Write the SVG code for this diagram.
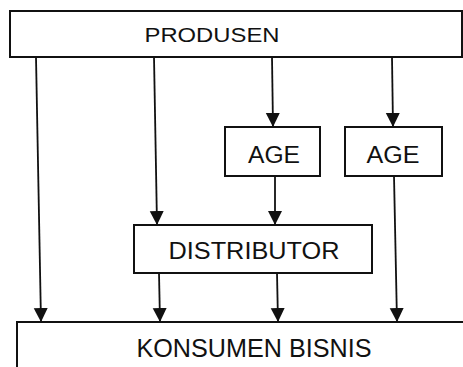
<svg xmlns="http://www.w3.org/2000/svg" width="463" height="367" viewBox="0 0 463 367">
<defs>
<marker id="ah" markerUnits="userSpaceOnUse" markerWidth="14" markerHeight="16" refX="14" refY="7" orient="auto" viewBox="0 0 14 14">
<path d="M0,0 L14,7 L0,14 Z" fill="#111"/>
</marker>
<style>
.box{fill:#fff;stroke:#111;stroke-width:2}
.lbl{font-family:"Liberation Sans","DejaVu Sans",sans-serif;fill:#111;text-anchor:middle}
.con{stroke:#111;stroke-width:1.8;fill:none;marker-end:url(#ah)}
</style>
</defs>
<rect width="463" height="367" fill="#fff"/>
<g id="produsen">
<rect class="box" x="10" y="11" width="452" height="46"/>
<text class="lbl" x="212" y="42" font-size="21" textLength="135" lengthAdjust="spacingAndGlyphs">PRODUSEN</text>
</g>
<g id="age1">
<rect class="box" x="225" y="127" width="95" height="49"/>
<text class="lbl" x="274" y="163" font-size="23" textLength="52" lengthAdjust="spacingAndGlyphs">AGE</text>
</g>
<g id="age2">
<rect class="box" x="345" y="127" width="97" height="49"/>
<text class="lbl" x="393" y="163" font-size="23" textLength="53" lengthAdjust="spacingAndGlyphs">AGE</text>
</g>
<g id="distributor">
<rect class="box" x="134" y="225" width="238" height="48"/>
<text class="lbl" x="254" y="259" font-size="23" textLength="171" lengthAdjust="spacingAndGlyphs">DISTRIBUTOR</text>
</g>
<g id="konsumen">
<rect class="box" x="17" y="322" width="450" height="50"/>
<text class="lbl" x="254" y="357" font-size="25" textLength="235" lengthAdjust="spacingAndGlyphs">KONSUMEN BISNIS</text>
</g>
<g id="connectors">
<line class="con" x1="36" y1="57" x2="41" y2="322"/>
<line class="con" x1="154" y1="57" x2="157" y2="225"/>
<line class="con" x1="272" y1="57" x2="273" y2="127"/>
<line class="con" x1="392" y1="57" x2="393" y2="127"/>
<line class="con" x1="275" y1="176" x2="275" y2="225"/>
<line class="con" x1="394" y1="176" x2="397" y2="322"/>
<line class="con" x1="159" y1="273" x2="160" y2="322"/>
<line class="con" x1="277" y1="273" x2="278" y2="322"/>
</g>
</svg>
